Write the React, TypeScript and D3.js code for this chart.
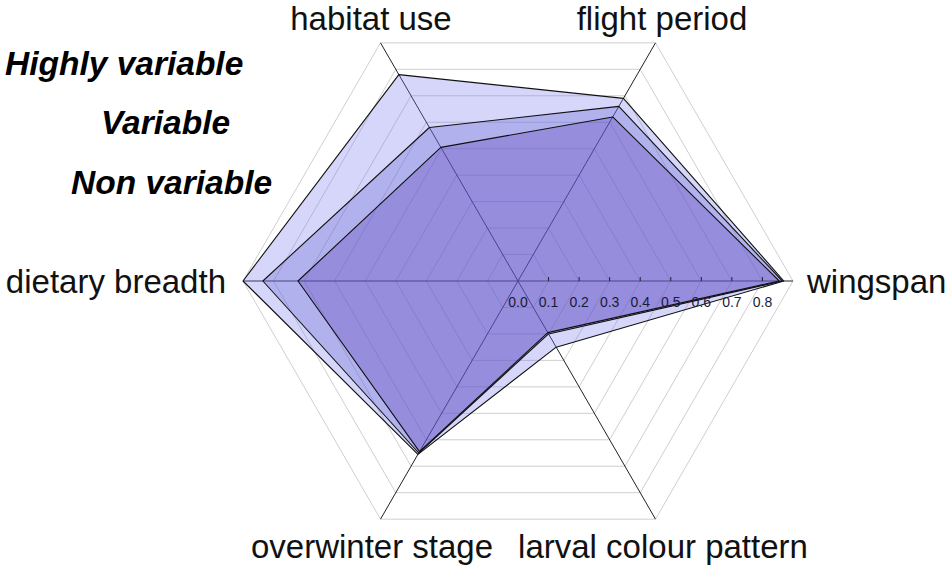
import * as React from 'react';
import * as d3 from 'd3';

// axes go counter-clockwise starting at 3 o'clock
const axes = ['wingspan', 'flight period', 'habitat use', 'dietary breadth', 'overwinter stage', 'larval colour pattern'];
const highlyVariable = [0.87, 0.69, 0.78, 0.9, 0.655, 0.25];
const variable = [0.865, 0.66, 0.58, 0.835, 0.65, 0.2];
const nonVariable = [0.855, 0.62, 0.505, 0.72, 0.645, 0.195];
const seriesNames = ['Highly variable', 'Variable', 'Non variable'];
const ringLevels = [0.1, 0.2, 0.3, 0.4, 0.5, 0.6, 0.7, 0.8, 0.9];
const tickLabels = [0, 0.1, 0.2, 0.3, 0.4, 0.5, 0.6, 0.7, 0.8];

const W = 952;
const H = 573;
const cx = 518;
const cy = 281;

const App = () => {
  const r = d3.scaleLinear().domain([0, 0.9]).range([0, 275]);
  const angle = (i) => Math.PI / 2 - (i * Math.PI) / 3;
  const radial = d3.lineRadial<number>()
    .angle((d, i) => angle(i))
    .radius((d) => r(d))
    .curve(d3.curveLinearClosed);

  const fills = ['rgba(118,118,238,0.3)', 'rgba(94,94,210,0.3)', 'rgba(91,58,185,0.3)'];
  const series = [highlyVariable, variable, nonVariable];

  const pt = (i, v) => [r(v) * Math.cos((i * Math.PI) / 3), -r(v) * Math.sin((i * Math.PI) / 3)];

  // label placement around the hexagon
  const labelPos = [
    {x: 807, y: 293, anchor: 'start'},
    {x: 662, y: 30, anchor: 'middle'},
    {x: 371, y: 30, anchor: 'middle'},
    {x: 226, y: 293, anchor: 'end'},
    {x: 372, y: 558, anchor: 'middle'},
    {x: 663, y: 558, anchor: 'middle'},
  ];
  const legendPos = [{x: 5, y: 75}, {x: 101, y: 134}, {x: 71, y: 194}];

  return (
    <svg width={W} height={H} style={{position: 'absolute', left: 0, top: 0, background: '#fff'}}
      fontFamily="'Liberation Sans', Arial, sans-serif">
      <g transform={`translate(${cx},${cy})`}>
        {ringLevels.map((lv) => (
          <path key={lv} d={radial(axes.map(() => lv))} fill="none" stroke="#cfcfcf" strokeWidth={1} />
        ))}
        {axes.map((a, i) => {
          const [x, y] = pt(i, 0.9);
          return <line key={a} x1={0} y1={0} x2={x} y2={y} stroke="#222" strokeWidth={1} />;
        })}
        {series.map((s, k) => (
          <path key={k} d={radial(s)} fill={fills[k]} stroke="#111" strokeWidth={1.1} strokeLinejoin="round" />
        ))}
        {tickLabels.map((t) => (
          <g key={t} transform={`translate(${r(t)},0)`}>
            {t > 0 && <line x1={0} x2={0} y1={-4} y2={0} stroke="#223" strokeWidth={1} />}
            <text y={26} textAnchor="middle" fontSize={14} fill="#1a1a3a">{t.toFixed(1)}</text>
          </g>
        ))}
      </g>
      {axes.map((a, i) => (
        <text key={a} x={labelPos[i].x} y={labelPos[i].y} textAnchor={labelPos[i].anchor} fontSize={33} fill="#111">{a}</text>
      ))}
      {seriesNames.map((n, i) => (
        <text key={n} x={legendPos[i].x} y={legendPos[i].y} fontSize={33.5} fontWeight="bold" fontStyle="italic" fill="#000">{n}</text>
      ))}
    </svg>
  );
};

export default App;
